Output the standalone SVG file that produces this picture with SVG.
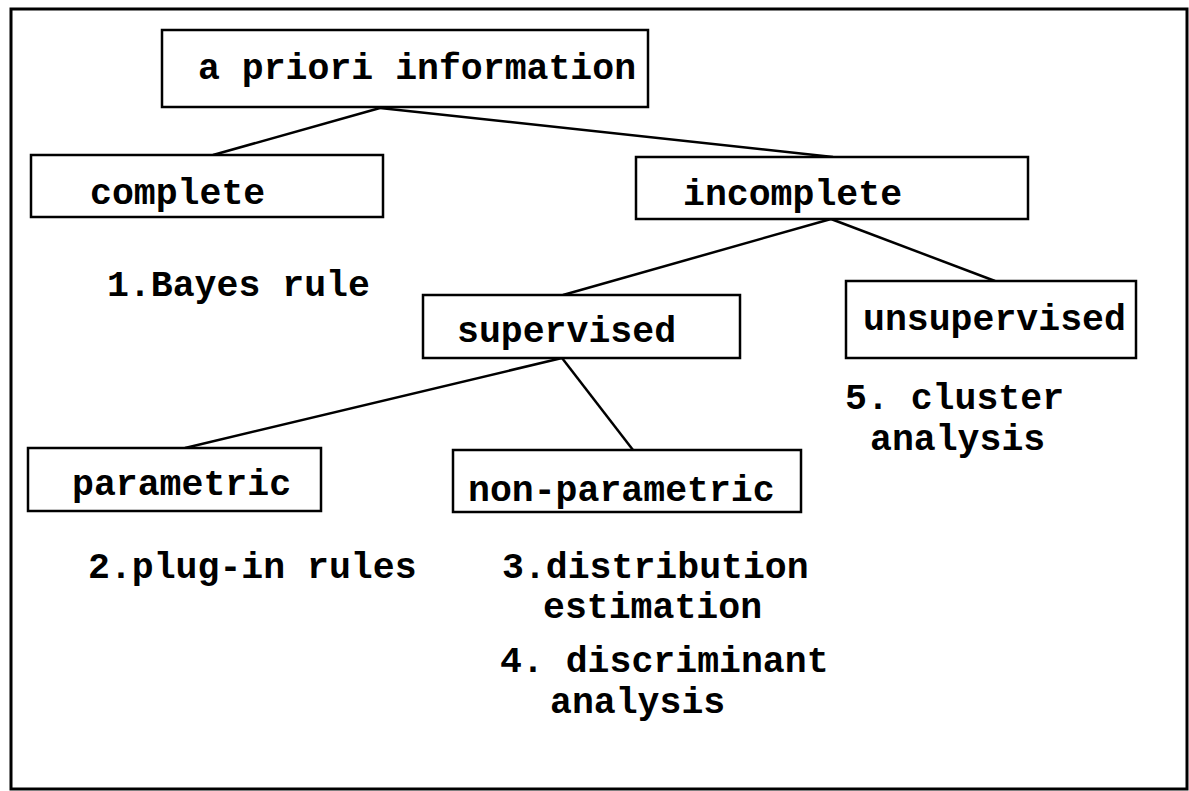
<svg xmlns="http://www.w3.org/2000/svg" width="1189" height="791" viewBox="0 0 1189 791">
<style>
.box{fill:#fff;stroke:#000;stroke-width:2.5}
.frame{fill:none;stroke:#000;stroke-width:3}
.conn line{stroke:#000;stroke-width:2.5;fill:none}
text{font-family:"Liberation Mono","Courier New",monospace;font-weight:bold;font-size:36.5px;fill:#000}
</style>
<rect width="1189" height="791" fill="#fff"/>
<rect class="frame" x="11" y="9" width="1176" height="780"/>
<g id="connectors" class="conn">
<line x1="380" y1="108" x2="213" y2="155"/>
<line x1="380" y1="108" x2="833" y2="157"/>
<line x1="831" y1="219" x2="563" y2="295"/>
<line x1="831" y1="219" x2="995" y2="281"/>
<line x1="562" y1="358" x2="185" y2="448"/>
<line x1="562" y1="358" x2="633" y2="450"/>
</g>
<g id="apriori"><rect class="box" x="162" y="30" width="486" height="77"/><text x="198" y="79">a priori information</text></g>
<g id="complete"><rect class="box" x="31" y="155" width="352" height="62"/><text x="90" y="204">complete</text></g>
<g id="incomplete"><rect class="box" x="636" y="157" width="392" height="62"/><text x="683" y="205">incomplete</text></g>
<g id="supervised"><rect class="box" x="423" y="295" width="317" height="63"/><text x="457" y="342">supervised</text></g>
<g id="unsupervised"><rect class="box" x="846" y="281" width="290" height="77"/><text x="863" y="330">unsupervised</text></g>
<g id="parametric"><rect class="box" x="28" y="448" width="293" height="63"/><text x="72" y="495">parametric</text></g>
<g id="nonparametric"><rect class="box" x="453" y="450" width="348" height="62"/><text x="468" y="501">non-parametric</text></g>
<g id="labels">
<text x="107" y="296">1.Bayes rule</text>
<text x="88" y="578">2.plug-in rules</text>
<text x="502" y="578">3.distribution</text>
<text x="543" y="618">estimation</text>
<text x="500" y="672">4. discriminant</text>
<text x="550" y="713">analysis</text>
<text x="845" y="409">5. cluster</text>
<text x="870" y="450">analysis</text>
</g>
</svg>
